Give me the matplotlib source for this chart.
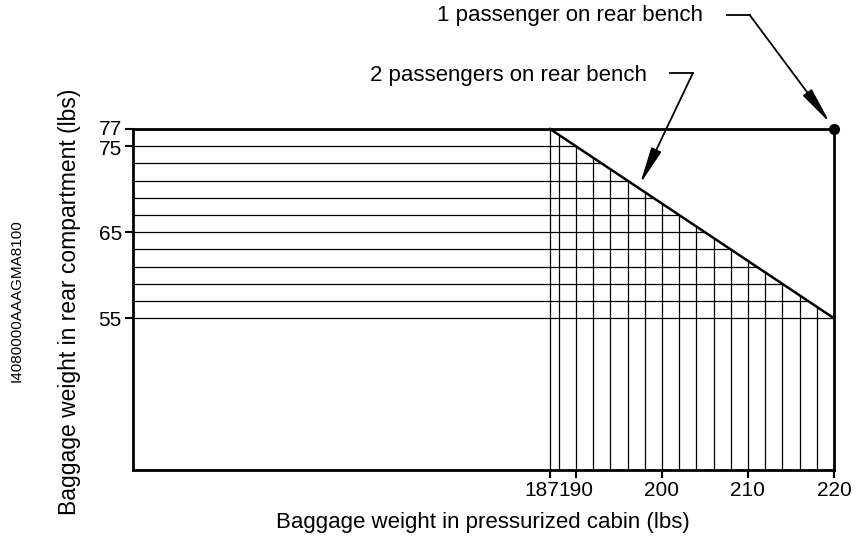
import numpy as np
import matplotlib.pyplot as plt
from matplotlib.transforms import ScaledTranslation

plt.rcParams['font.family'] = ['Liberation Sans', 'DejaVu Sans']

# limits (lbs)
cabin_limit = [187, 220]          # pressurized cabin baggage
rear_limit = [77, 55]             # rear compartment baggage, 2 passengers
one_pax_point = (220, 77)

x_ticks = [187, 190, 200, 210, 220]
y_ticks = [55, 65, 75, 77]

# hatch lines inside the allowed region
hatch_y = [55, 57, 59, 61, 63, 65, 67, 69, 71, 73, 75]
hatch_x = [187, 188, 190, 192, 194, 196, 198, 200, 202, 204, 206, 208,
           210, 212, 214, 216, 218, 220]

xmin, xmax = 138.5, 220
ymin, ymax = 37.35, 77

fig = plt.figure(figsize=(8.64, 5.36), dpi=100)
ax = fig.add_axes([0.1539, 0.1231, 0.8113, 0.6362])
ax.set_xlim(xmin, xmax)
ax.set_ylim(ymin, ymax)

# horizontal hatch: from left edge to the sloped limit
for y in hatch_y:
    x_end = np.interp(y, rear_limit[::-1], cabin_limit[::-1])
    ax.plot([xmin, x_end], [y, y], color='black', lw=0.9, solid_capstyle='butt')

# vertical hatch: from bottom edge to the sloped limit
for x in hatch_x:
    y_end = np.interp(x, cabin_limit, rear_limit)
    ax.plot([x, x], [ymin, y_end], color='black', lw=0.9, solid_capstyle='butt')

# limit lines
ax.plot(cabin_limit, rear_limit, color='black', lw=1.8, clip_on=False)
ax.plot([xmin, xmax], [77, 77], color='black', lw=2, clip_on=False)
ax.plot(*one_pax_point, 'o', color='black', ms=7, clip_on=False, zorder=5)

for s in ['left', 'bottom', 'right']:
    ax.spines[s].set_linewidth(2)
ax.spines['top'].set_visible(False)

ax.set_xticks(x_ticks)
ax.set_xticklabels([str(v) for v in x_ticks])
ax.set_yticks(y_ticks)
ax.set_yticklabels([str(v) for v in y_ticks])
ax.tick_params(direction='out', length=6, width=1.5, labelsize=15, pad=2)

# 187 and 190 sit close together: shift 187 left, keep 75/77 apart
xl = ax.get_xticklabels()
xl[0].set_transform(xl[0].get_transform() + ScaledTranslation(-8 / 100, 0, fig.dpi_scale_trans))
yl = ax.get_yticklabels()
yl[3].set_transform(yl[3].get_transform() + ScaledTranslation(0, 2 / 100, fig.dpi_scale_trans))
yl[2].set_transform(yl[2].get_transform() + ScaledTranslation(0, -1 / 100, fig.dpi_scale_trans))

ax.set_xlabel('Baggage weight in pressurized cabin (lbs)', fontsize=16)
ax.xaxis.set_label_coords(483 / 864, 1 - 528 / 536, transform=fig.transFigure)
ax.xaxis.label.set_va('baseline')
ax.set_ylabel('Baggage weight in rear compartment (lbs)', fontsize=16.5)
ax.yaxis.set_label_coords(81 / 864, 1 - 302 / 536, transform=fig.transFigure)

# callouts
arrow = dict(arrowstyle='-|>,head_length=1.5,head_width=0.22', color='black',
             lw=1.3, mutation_scale=15, shrinkA=0, shrinkB=0)

ax.text(204.8, 90.2, '1 passenger on rear bench', fontsize=16,
        va='center', ha='right')
ax.plot([207.6, 210.2], [90.26, 90.26], color='black', lw=1.3, clip_on=False)
ax.annotate('', xy=(219.55, 77.7), xytext=(210.2, 90.26),
            arrowprops=arrow, annotation_clip=False)

ax.text(198.3, 83.2, '2 passengers on rear bench', fontsize=16,
        va='center', ha='right')
ax.plot([200.9, 203.6], [83.5, 83.5], color='black', lw=1.3, clip_on=False)
ax.annotate('', xy=(197.45, 70.6), xytext=(203.6, 83.5),
            arrowprops=arrow, annotation_clip=False)

fig.text(17 / 864, 1 - 301 / 536, 'I4080000AAAGMA8100', rotation=90,
         fontsize=11, ha='center', va='center')

fig.savefig('out.png', dpi=100)
